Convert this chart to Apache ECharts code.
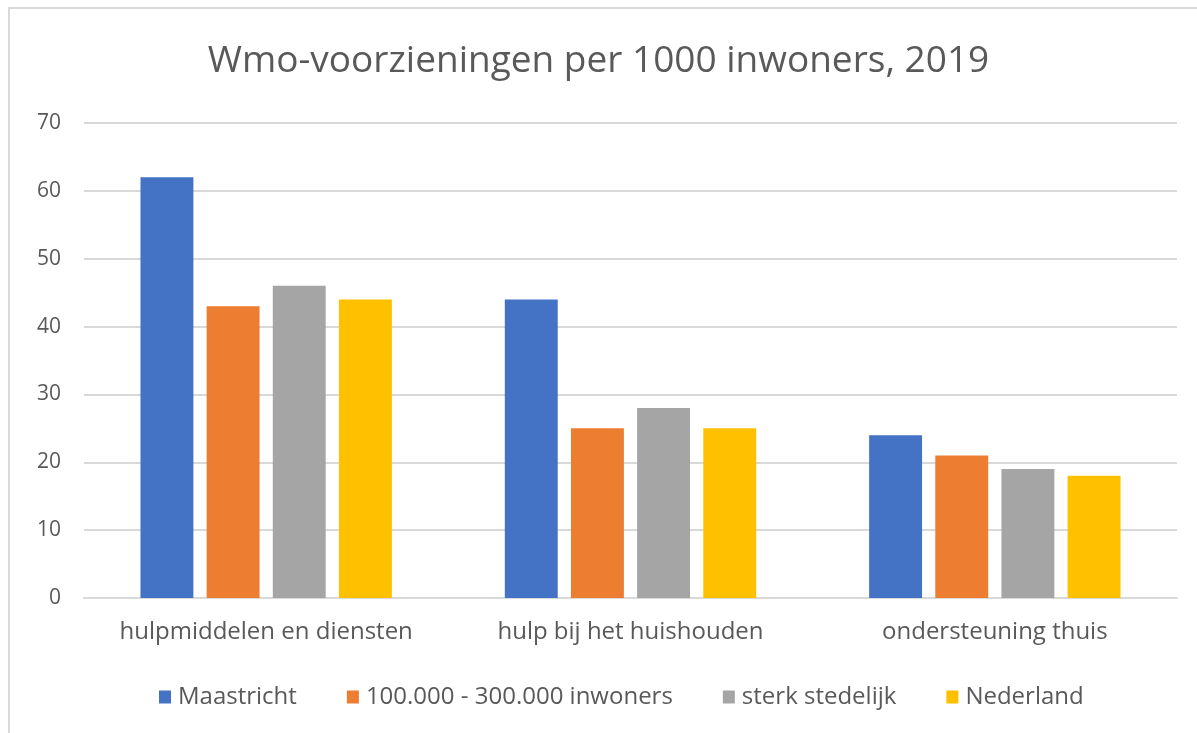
<!DOCTYPE html>
<html>
<head>
<meta charset="utf-8">
<script src="https://cdn.jsdelivr.net/npm/echarts@6/dist/echarts.min.js"></script>
<style>
  html, body { margin: 0; padding: 0; background: #fff; }
  #chart { position: absolute; left: 0; top: 0; width: 1197px; height: 733px; }
  #frame { position: absolute; left: 8px; top: 7px; width: 1200px; height: 740px;
           border: 2px solid #d9d9d9; box-sizing: border-box; pointer-events: none; }
</style>
</head>
<body>
<div id="chart"></div>
<div id="frame"></div>
<script>
// categorieen en waarden
const categories = ["hulpmiddelen en diensten", "hulp bij het huishouden", "ondersteuning thuis"];
const seriesNames = ["Maastricht", "100.000 - 300.000 inwoners", "sterk stedelijk", "Nederland"];
const maastricht = [62, 44, 24];
const middelgroot = [43, 25, 21];
const sterkStedelijk = [46, 28, 19];
const nederland = [44, 25, 18];
const colors = ["#4472c4", "#ed7d31", "#a5a5a5", "#ffc000"];

const values = [maastricht, middelgroot, sterkStedelijk, nederland];
const font = "'Open Sans', 'Noto Sans', sans-serif";

let myChart = echarts.init(document.getElementById("chart"));
let seriesData = [];
values.forEach((data, i) => {
  seriesData.push({
    name: seriesNames[i],
    type: "bar",
    data: data,
    barGap: "25%",
    barCategoryGap: "31%",
    itemStyle: { color: colors[i] },
  });
});

let option = {
  animation: false,
  color: colors,
  title: {
    text: "Wmo-voorzieningen per 1000 inwoners, 2019",
    left: "center",
    top: 38,
    textStyle: { color: "#595959", fontSize: 37, fontWeight: "normal", fontFamily: font },
  },
  legend: {
    top: 680,
    left: 154,
    itemWidth: 12,
    itemHeight: 13,
    itemGap: 50,
    icon: "rect",
    textStyle: { color: "#595959", fontSize: 24, fontFamily: font, padding: [0, 0, 0, 2] },
  },
  grid: { left: 84, right: 20, top: 123, bottom: 135, containLabel: false },
  xAxis: {
    type: "category",
    data: categories,
    axisTick: { show: false },
    axisLine: { lineStyle: { color: "#d9d9d9", width: 2 } },
    axisLabel: { color: "#595959", fontSize: 24, fontFamily: font, margin: 22, interval: 0 },
  },
  yAxis: {
    type: "value",
    min: 0,
    max: 70,
    interval: 10,
    axisLine: { show: false },
    axisTick: { show: false },
    axisLabel: { color: "#595959", fontSize: 21, fontFamily: font, margin: 23 },
    splitLine: { lineStyle: { color: "#d9d9d9", width: 2 } },
  },
  series: seriesData,
};
myChart.setOption(option);
</script>
</body>
</html>
